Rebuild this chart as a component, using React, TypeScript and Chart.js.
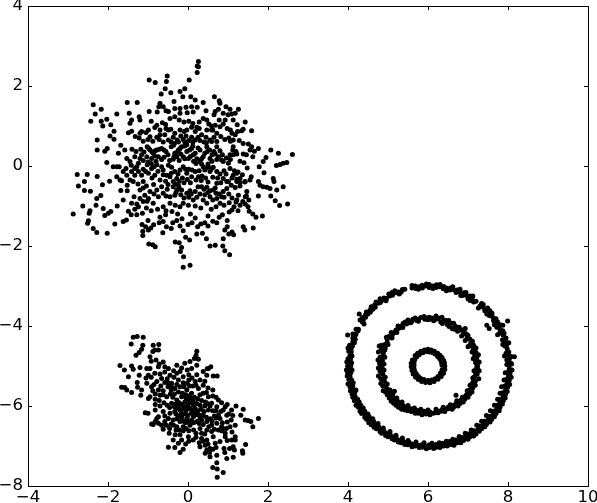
import { useEffect, useRef } from "react";
import { Chart, registerables } from "chart.js";

Chart.register(...registerables);

const xTickLabels = ["\u22124", "\u22122", "0", "2", "4", "6", "8", "10"];
const yTickLabels = ["\u22128", "\u22126", "\u22124", "\u22122", "0", "2", "4"];

const blobUpperEdge = [
[0.26,2.61],[0.23,2.5],[0.26,2.48],[0.23,2.34],[-0.52,2.25],[-0.97,2.15],[-0.82,2.09],[-0.54,2.11],[0.03,2.15],
[-0.57,1.93],[-0.67,1.8],[-0.43,1.83],[-0.2,1.86],[-0.08,1.93],[-0.13,1.73],[0.07,1.73],[0.18,1.65],[0.66,1.73],[0.78,1.63],[0.8,1.57],[0.38,1.59],
[-0.7,1.57],[-0.73,1.48],[-0.62,1.48],[-0.55,1.38],[-0.49,1.36],[-0.97,1.36],[-0.77,1.35],[-0.35,1.61],[-0.33,1.44],[-0.2,1.44],[-0.05,1.47],[0.09,1.48],[0.23,1.47],[0.13,1.35],[-0.02,1.33],[-0.2,1.32],[-0.33,1.23],[-0.22,1.15],[-0.45,1.19],
[0.45,1.38],[0.68,1.36],[0.76,1.42],[0.95,1.48],[1.05,1.42],[1.26,1.42],[1.18,1.32],[1.09,1.3],[1.0,1.28],[0.88,1.32],[0.65,1.28],[0.93,1.15],[0.88,1.05],[0.78,1.15],[0.38,1.19],[0.47,1.15],[0.59,1.0],[0.62,0.9],[0.72,0.82],[1.13,1.15],[1.43,1.1],[1.23,1.03],[1.38,0.92],[1.34,0.88],[1.59,0.88],[1.18,0.78],[1.13,0.65],
];
const blobLeftEdge = [
[-2.37,1.53],[-2.17,1.42],[-2.32,1.3],[-2.43,1.12],[-2.03,1.17],[-2.17,1.12],[-2.13,1.0],[-1.78,1.3],[-1.52,1.59],[-1.27,1.59],[-1.47,1.32],[-1.41,1.15],[-1.45,1.07],[-1.22,1.23],[-1.2,1.15],[-1.93,1.03],[-1.85,0.87],[-1.95,0.75],[-1.85,0.67],[-2.27,0.65],[-2.27,0.4],[-2.08,0.37],[-2.02,0.44],[-1.68,0.52],[-1.58,0.4],[-1.74,0.32],[-2.03,0.09],[-1.87,-0.02],[-1.78,-0.02],
[-2.77,-0.21],[-2.52,-0.21],[-2.27,-0.26],[-2.59,-0.39],[-2.74,-0.5],[-2.59,-0.61],[-2.44,-0.63],[-2.14,-0.47],[-1.96,-0.38],[-1.78,-0.27],[-1.7,-0.35],[-1.66,-0.37],[-1.68,-0.61],[-2.18,-0.74],[-2.28,-0.81],[-2.63,-1.0],[-2.3,-0.98],[-2.87,-1.2],[-2.45,-1.12],[-2.47,-1.18],[-2.12,-1.06],[-1.77,-1.0],[-2.08,-1.24],[-1.99,-1.18],[-1.93,-1.14],[-2.49,-1.37],[-2.51,-1.43],[-2.37,-1.56],[-2.28,-1.66],[-2.02,-1.68],[-1.83,-1.45],[-1.62,-1.39],[-1.54,-1.35],[-1.49,-1.13],
];
const blobRightEdge = [
[2.61,0.29],[2.07,0.4],[2.26,0.32],[2.47,0.09],[2.38,0.07],[2.3,0.04],[2.21,0.01],[1.95,0.21],[1.88,0.11],[1.78,-0.02],[1.9,-0.17],[2.13,-0.31],[2.15,-0.39],[2.38,-0.52],[2.22,-0.6],[2.05,-0.56],[1.97,-0.53],[1.88,-0.52],[1.8,-0.48],[1.76,-0.39],[1.76,-0.75],[2.07,-0.75],[2.18,-0.87],[2.29,-0.99],[2.49,-0.95],
[1.51,0.55],[1.59,0.48],[1.76,0.44],[1.66,0.37],[1.55,0.4],[1.38,0.3],[1.46,0.28],[1.62,0.23],[1.13,0.48],[1.12,0.4],[1.2,0.36],[1.05,0.28],[1.13,0.28],[1.22,0.3],[1.48,-0.05],[1.58,-0.27],[1.55,-0.35],[1.36,-0.22],[1.25,-0.15],[1.16,-0.12],[1.42,-0.4],[1.3,-0.42],[1.22,-0.33],[1.1,-0.3],[1.52,-0.85],[1.46,-0.75],[1.43,-0.95],[1.5,-1.02],[1.53,-1.13],[1.62,-1.2],[1.7,-1.28],[1.86,-1.25],[1.63,-1.55],[1.38,-1.52],[1.2,-0.9],[1.15,-1.02],[1.1,-1.1],[1.03,-1.15],[1.25,-1.12],
];
const blobLowerEdge = [
[-1.0,-1.36],[-1.15,-1.46],[-1.06,-1.52],[-0.99,-1.6],[-1.13,-1.63],[-1.13,-1.74],[-0.93,-1.55],[-0.86,-1.47],[-0.72,-1.42],[-0.62,-1.39],[-0.54,-1.52],[-0.98,-1.95],[-0.88,-1.97],[-0.82,-2.02],[-0.63,-1.67],[-0.32,-1.9],[-0.22,-1.92],[-0.12,-1.62],[-0.06,-1.78],[-0.16,-2.04],[-0.19,-2.14],[0.04,-1.85],[0.22,-1.7],[0.36,-1.68],[0.46,-1.82],[0.55,-2.0],[0.68,-1.98],[0.88,-1.82],[0.87,-2.0],[0.92,-2.12],[1.04,-2.22],[0.98,-1.52],[1.1,-1.65],[1.14,-1.72],[1.02,-1.7],[0.92,-1.6],[1.42,-1.6],[-0.11,-2.27],[-0.12,-2.53],[0.05,-2.48],
[0.0,-1.46],[0.1,-1.42],[0.24,-1.52],[0.32,-1.45],[0.42,-1.42],[0.5,-1.5],[0.62,-1.38],[0.72,-1.42],[0.78,-1.28],[-0.38,-1.42],[-0.28,-1.36],[-0.2,-1.5],[-0.42,-1.56],[-0.7,-1.28],[-0.56,-1.22],[-0.4,-1.14],[-0.26,-1.2],[-0.15,-1.32],
];
const blobCoreUpper = [
[-0.99,0.9],[-0.83,0.96],[-0.7,0.9],[-0.55,0.94],[-0.49,0.9],[-0.43,0.92],[-0.33,0.82],[-0.2,0.9],[-0.1,0.86],[-0.03,0.9],[0.09,0.97],[0.22,0.97],[0.18,0.86],[0.28,0.94],[0.47,0.9],[0.59,0.9],[-0.7,0.78],[-0.78,0.72],[-0.95,0.73],[-1.05,0.84],[-1.16,0.86],[-1.2,0.82],[-1.41,0.87],[-1.49,0.83],[-0.58,0.78],[-0.49,0.65],[-0.37,0.72],[-0.27,0.65],[-0.18,0.75],[-0.05,0.75],[0.09,0.72],[0.18,0.65],[0.34,0.78],[0.45,0.72],[0.55,0.65],[0.65,0.72],[0.72,0.61],
[-1.02,0.48],[-0.95,0.4],[-0.87,0.32],[-0.78,0.4],[-0.66,0.44],[-0.55,0.36],[-0.74,0.23],[-0.91,0.19],[-1.03,0.23],[-0.33,0.32],[-0.28,0.23],[-0.37,0.17],[-0.24,0.4],[-0.16,0.48],[-0.03,0.53],[0.09,0.44],[-0.03,0.36],[-0.12,0.23],[0.01,0.19],[0.13,0.28],[0.3,0.4],[0.38,0.23],[0.3,0.11],[0.47,0.48],[0.59,0.61],[0.72,0.48],[0.65,0.36],[0.76,0.23],[0.55,0.19],[0.88,0.11],[1.01,0.07],[-1.53,0.19],[-1.45,0.11],[-1.33,0.23],[-1.2,0.19],[-1.24,0.07],[-1.33,-0.06],[-1.16,0.28],
[-0.98,0.44],[-0.9,0.35],[-0.82,0.38],[-0.72,0.42],[-0.6,0.4],[-0.83,0.25],[-0.3,0.28],[-0.35,0.24],[-0.26,0.36],[-0.2,0.44],[-0.08,0.5],[0.04,0.4],[-0.08,0.18],[0.06,0.24],[0.18,0.32],[0.25,0.45],[0.34,0.18],[0.34,0.05],[0.42,0.32],[0.6,0.28],[0.68,0.3],[0.72,0.16],[0.5,0.05],[0.6,0.12],[0.84,0.15],
];
const blobCoreMiddle = [
[-0.49,0.02],[-0.41,-0.03],[-0.33,-0.14],[-0.2,-0.1],[-0.12,-0.02],[-0.03,-0.18],[0.09,-0.27],[0.18,-0.14],[0.26,-0.27],[0.38,-0.02],[0.51,-0.02],[0.63,-0.03],[0.55,-0.14],[0.72,-0.14],[0.88,-0.31],[1.05,-0.06],[1.22,-0.18],[1.3,-0.31],[1.43,-0.39],[1.01,-0.39],[-0.53,-0.23],[-0.66,-0.02],[-0.78,0.03],[-0.91,-0.06],[-0.99,-0.18],[-0.83,-0.23],[-0.7,-0.35],[-0.45,-0.27],[-0.37,-0.39],[-0.28,-0.31],[-1.02,0.03],[-1.16,-0.23],[-1.24,-0.14],[-1.33,-0.23],[-1.45,-0.35],[-1.37,-0.39],[-1.62,-0.14],[-1.53,-0.23],[-1.41,-0.14],[-1.12,-0.39],
[0.45,-0.05],[0.58,-0.08],[0.42,-0.1],[0.35,-0.25],[0.1,-0.1],[-0.06,-0.08],[-0.42,-0.18],[-0.62,-0.1],[-0.75,-0.13],[-0.85,-0.02],[-1.28,-0.02],[-1.42,0.02],[0.95,-0.2],[0.8,-0.2],[-0.25,-0.2],[0.2,-0.35],
];
const blobCoreLower = [
[-0.37,-0.52],[-0.24,-0.48],[-0.28,-0.6],[-0.16,-0.6],[-0.33,-0.73],[-0.45,-0.77],[-0.62,-0.68],[-0.74,-0.77],[-0.95,-0.64],[-0.99,-0.81],[-1.08,-0.73],[-0.87,-0.93],[-1.12,-0.89],[-1.35,-0.77],[-1.2,-0.81],[-1.24,-1.02],[-1.33,-1.08],[-1.41,-0.93],[-1.62,-0.85],[-0.03,-0.68],[0.18,-0.64],[0.34,-0.52],[0.47,-0.53],[0.63,-0.6],[0.55,-0.77],[0.38,-0.85],[0.72,-0.81],[0.84,-0.77],[0.88,-0.64],[0.97,-0.39],[0.72,-0.43],[0.8,-0.93],[0.97,-0.56],[1.26,-0.73],[1.22,-0.85],[1.37,-0.89],[1.43,-0.77],[1.47,-0.64],[0.47,-0.93],[0.13,-0.85],[0.01,-0.98],[-0.12,-0.93],[-0.45,-0.93],[-0.62,-1.02],[1.22,-0.39],[1.13,-0.23],[1.3,-0.98],
[-0.32,-0.45],[-0.22,-0.55],[-0.3,-0.66],[0.25,-0.52],[0.4,-0.58],[0.55,-0.62],[0.78,-0.7],[0.62,-0.85],[-0.85,-0.7],[-1.02,-0.88],[-1.28,-0.95],[-0.55,-0.75],[0.05,-0.62],[0.9,-0.78],
];
const blobFillTop = [
[-0.92,1.12],[-0.78,1.02],[-0.64,1.08],[-0.56,1.04],[-0.1,1.1],[0.02,1.12],[0.12,1.06],[0.28,1.1],[0.52,1.05],[0.68,1.02],[0.8,0.98],[0.98,0.94],[1.06,0.9],[1.1,0.82],[1.24,0.86],
[-1.32,0.74],[-1.22,0.7],[-1.12,0.62],[-1.0,0.66],[-0.88,0.62],[-0.72,0.66],[-0.62,0.6],[-0.42,0.6],[-0.34,0.56],[-0.24,0.6],[-0.12,0.66],[-0.08,0.6],[0.02,0.64],[0.12,0.6],[0.25,0.72],[0.3,0.64],[0.4,0.6],[0.46,0.58],[0.82,0.74],[0.92,0.66],[1.02,0.7],[1.06,0.62],[1.28,0.64],[1.38,0.56],
[-1.4,0.42],[-1.3,0.36],[-1.18,0.42],[-1.1,0.35],[-1.12,0.14],[-1.0,0.1],[-0.92,0.06],[-0.8,0.12],[-0.66,0.16],[-0.6,0.22],[-0.5,0.28],[-0.46,0.14],[-0.42,0.48],[-0.36,0.52],[-0.18,0.3],[-0.22,0.14],[0.14,0.12],[0.2,0.06],[0.12,0.5],[0.22,0.18],[0.48,0.36],[0.54,0.4],[0.8,0.38],[0.86,0.28],[0.96,0.2],[1.06,0.16],[1.3,0.12],[1.4,0.08],
];
const blobFillBottom = [
[-1.72,-0.02],[-1.55,-0.06],[-1.12,-0.08],[-1.06,-0.14],[-0.9,-0.3],[-0.62,-0.22],[-0.56,-0.38],[-0.5,-0.46],[-0.22,-0.38],[-0.14,-0.3],[-0.1,-0.42],[-0.02,-0.34],[0.06,-0.42],[0.02,-0.08],[0.28,-0.12],[0.33,-0.36],[0.44,-0.3],[0.5,-0.4],[0.62,-0.28],[0.74,-0.3],[0.82,-0.42],[0.9,-0.12],[1.08,-0.48],[1.18,-0.54],[1.3,-0.5],[-1.25,-0.45],[-1.52,-0.48],[-1.04,-0.5],[-0.86,-0.46],
[-1.52,-0.62],[-1.2,-0.6],[-1.12,-0.55],[-0.78,-0.6],[-0.66,-0.52],[-0.52,-0.58],[-0.18,-0.72],[-0.1,-0.8],[0.02,-0.78],[0.08,-0.7],[0.22,-0.78],[0.3,-0.7],[0.42,-0.72],[0.5,-0.66],[0.68,-0.55],[0.7,-0.68],[1.02,-0.7],[1.1,-0.8],[1.03,-0.92],[0.9,-0.98],[0.7,-1.02],[0.58,-1.08],[0.32,-1.05],[0.18,-1.0],[-0.2,-1.02],[-0.32,-0.98],[-0.76,-1.08],[-0.92,-1.12],[-1.04,-1.05],[-1.14,-1.18],[-1.28,-1.22],[-1.42,-1.22],[-0.55,-1.12],[0.06,-1.2],[0.18,-1.3],[0.5,-1.25],[0.86,-1.22],[0.98,-1.36],
];

const tiltedUpper = [
[-1.37,-4.28],[-1.27,-4.26],[-1.12,-4.28],[-1.42,-4.45],[-1.13,-4.48],[-0.87,-4.48],[-0.73,-4.46],[-0.83,-4.6],[-0.74,-4.6],[-1.16,-4.58],[-1.22,-4.66],[-1.3,-4.73],[-0.88,-4.64],[-0.95,-4.77],[0.22,-4.63],[0.2,-4.73],[0.16,-4.81],[0.26,-4.83],
[-1.7,-4.99],[-1.59,-5.1],[-1.41,-5.0],[-1.37,-5.08],[-1.49,-5.27],[-1.2,-5.04],[-1.22,-5.23],[-1.66,-5.53],[-1.58,-5.54],[-1.53,-5.6],[-1.41,-5.66],[-1.27,-5.41],[-1.26,-5.53],[-1.16,-5.6],[-1.18,-5.73],[-0.99,-5.81],[-0.82,-5.83],[-0.82,-5.96],[-1.07,-6.17],[-1.0,-6.18],[-0.91,-6.45],[-0.78,-6.31],[-0.74,-6.43],
[0.63,-5.25],[0.73,-5.25],[0.57,-5.02],[0.48,-5.07],[0.38,-5.14],[-0.92,-4.88],[-0.8,-4.85],[-0.72,-4.95],[-0.62,-4.9],
];
const tiltedCore = [
[-0.95,-5.06],[-0.83,-5.18],[-0.74,-5.02],[-0.58,-5.02],[-0.49,-5.06],[-0.45,-5.23],[-0.66,-5.31],[-0.78,-5.39],[-0.58,-5.41],[-0.41,-5.43],[-0.28,-4.98],[-0.28,-5.18],[-0.08,-4.93],[0.05,-4.89],[0.22,-4.98],[-0.02,-5.1],[0.09,-5.06],[-0.2,-5.14],[-0.24,-5.35],[-0.12,-5.27],[-0.02,-5.43],[0.18,-5.39],[0.3,-5.35],[0.38,-5.48],[0.47,-5.23],[0.51,-5.06],[-1.03,-5.06],[-0.99,-5.23],[-1.03,-5.43],[-0.91,-5.52],[-0.74,-5.6],[-0.95,-5.77],[-0.7,-5.73],[-0.53,-5.77],[-0.33,-5.56],[-0.2,-5.52],[-0.03,-5.6],[0.09,-5.68],[0.26,-5.56],[0.38,-5.68],[0.51,-5.77],[0.76,-5.85],[0.59,-5.93],[0.72,-6.02],[0.88,-6.1],[1.09,-6.1],[0.97,-6.23],[0.8,-6.31],[1.18,-6.48],[1.05,-6.52],[0.76,-6.23],[0.51,-6.1],[0.3,-5.98],[0.13,-5.89],[0.01,-5.85],[-0.16,-5.77],[-0.28,-5.85],[-0.41,-5.93],[-0.24,-6.02],[-0.08,-6.02],[0.05,-6.06],[0.18,-6.18],[0.3,-6.23],[-0.16,-6.18],[-0.33,-6.14],[-0.37,-6.35],[-0.2,-6.39],[-0.03,-6.31],[0.09,-6.35],[0.22,-6.39],[0.34,-6.35],[0.47,-6.39],[0.59,-6.48],[0.72,-6.43],[0.84,-6.52],[-0.28,-6.52],[-0.12,-6.52],[0.05,-6.48],[0.3,-6.56],[0.47,-6.6],[0.59,-6.64],[-0.45,-6.18],[-0.62,-6.14],[-0.49,-6.31],[-0.58,-6.39],[-0.47,-6.68],[-0.82,-6.39],[-0.74,-6.27],[-0.87,-6.46],[-0.66,-6.48],
[1.38,-6.08],[1.2,-6.0],[1.32,-6.23],[1.43,-6.35],[1.57,-6.39],[1.62,-6.52],[1.5,-6.36],[1.76,-6.31],
];
const tiltedDense = [
[-0.3,-5.95],[-0.22,-5.92],[-0.15,-5.96],[-0.08,-5.9],[0,-5.96],[0.06,-5.92],[0.14,-5.98],[0.22,-5.94],[-0.27,-6.05],[-0.2,-6.1],[-0.12,-6.06],[-0.05,-6.12],[0.02,-6.05],[0.1,-6.1],[0.18,-6.06],[0.25,-6.12],[0.33,-6.08],[0.4,-6.14],[-0.3,-6.2],[-0.24,-6.25],[-0.16,-6.28],[-0.08,-6.2],[0,-6.24],[0.08,-6.18],[0.14,-6.26],[0.22,-6.22],[0.3,-6.3],[0.38,-6.24],[0.46,-6.28],[-0.28,-6.32],[-0.12,-6.38],[-0.06,-6.42],[0.02,-6.38],[0.14,-6.42],[0.28,-6.44],[0.38,-6.46],[-0.34,-5.7],[-0.24,-5.65],[-0.14,-5.68],[-0.06,-5.72],[0.02,-5.75],[0.16,-5.78],[0.24,-5.82],[0.34,-5.86],[0.44,-5.9],[-0.42,-5.6],[-0.5,-5.52],[-0.62,-5.62],[0.55,-6.0],[0.62,-6.12],[0.66,-6.25],[0.56,-6.32],[-0.36,-6.48],[-0.22,-6.6],[-0.05,-6.56],[0.14,-6.6],
];
const tiltedFill = [
[-1.05,-5.3],[-0.92,-5.28],[-0.7,-5.2],[-0.58,-5.15],[-0.52,-5.32],[-0.36,-5.12],[-0.35,-5.28],[-0.16,-5.05],[0.02,-5.22],[0.1,-5.3],[0.22,-5.22],[0.12,-5.5],[0.02,-5.35],[-0.12,-5.42],
[-0.85,-5.46],[-0.68,-5.5],[-0.5,-5.42],[-0.42,-5.5],[-0.28,-5.46],[-0.1,-5.52],[0.04,-5.5],[0.2,-5.48],[0.42,-5.38],[0.5,-5.55],[0.62,-5.6],[-0.88,-5.62],[-0.82,-5.7],[-0.62,-5.72],[-0.44,-5.7],[-0.38,-5.78],[-0.05,-5.8],[0.08,-5.8],[0.3,-5.72],[0.46,-5.66],[0.62,-5.75],[0.7,-5.78],[0.84,-5.92],[0.98,-5.96],[-0.72,-5.86],[-0.6,-5.92],[-0.52,-5.98],[-0.46,-6.04],[-0.34,-6.02],[-0.7,-6.0],[-0.82,-6.1],[0.42,-6.0],[0.48,-5.94],[0.7,-6.12],[0.82,-6.14],[0.93,-6.02],[1.02,-6.2],[1.12,-6.24],[-0.58,-6.25],[-0.54,-6.48],[-0.42,-6.45],[-0.46,-6.56],[-0.62,-6.58],[-0.3,-6.6],[-0.12,-6.62],[0.02,-6.62],[0.2,-6.68],[0.34,-6.68],[0.42,-6.7],[0.52,-6.52],[0.66,-6.58],[0.76,-6.6],[0.84,-6.62],[0.6,-6.38],[0.7,-6.3],[0.86,-6.42],[0.98,-6.4],[1.08,-6.35],[0.96,-6.56],[1.1,-6.65],[0.98,-6.86],[1.04,-7.06],[0.2,-6.78],[0.28,-6.92],[0.38,-6.88],[0.5,-6.95],[-0.06,-6.95],[0.02,-6.88],[-0.32,-6.72],[-0.2,-6.72],[0.7,-7.04],[0.62,-7.08],[0.54,-7.16],
];
const tiltedLower = [
[0.63,-6.77],[0.47,-6.85],[0.34,-6.81],[0.13,-6.85],[0.01,-6.77],[-0.16,-6.85],[-0.24,-6.93],[0.3,-7.02],[0.43,-6.98],[0.55,-7.06],[0.68,-6.93],[0.8,-6.89],[0.93,-6.77],[1.09,-6.85],[1.18,-6.85],[1.13,-7.02],[0.88,-6.56],[0.93,-6.68],[1.18,-6.77],[0.47,-7.1],[0.72,-7.23],
[-0.37,-6.85],[-0.49,-7.03],[-0.33,-7.04],[-0.2,-7.16],[-0.12,-7.08],[0.55,-7.27],[0.43,-7.18],[0.9,-7.06],[0.97,-7.31],[1.13,-7.28],[1.37,-7.18],[1.16,-7.1],[1.44,-6.96],[1.36,-7.12],[0.92,-7.16],
[0.72,-7.42],[0.62,-7.54],[0.73,-7.575],[0.88,-7.66],[0.73,-7.78],
];

const outerRing = [
[8.03,-5.0],[7.97,-4.96],[8.03,-4.83],[7.97,-4.85],[8.02,-4.65],[7.95,-4.68],[7.97,-4.47],[7.92,-4.5],[7.95,-4.3],[7.86,-4.35],[7.87,-4.12],[7.79,-4.18],[7.8,-3.97],[7.72,-4.03],[7.7,-3.82],[7.64,-3.87],[7.6,-3.68],[7.53,-3.74],[7.49,-3.55],[7.42,-3.62],[7.34,-3.44],[7.3,-3.5],[7.2,-3.38],[7.14,-3.4],[7.05,-3.25],[7.0,-3.32],[6.9,-3.17],[6.86,-3.24],[6.73,-3.1],[6.7,-3.16],[6.56,-3.05],[6.55,-3.1],[6.39,-3.01],[6.38,-3.07],[6.21,-2.97],[6.2,-3.04],[6.03,-2.96],[6.03,-3.04],
[5.85,-2.98],[5.86,-3.05],[5.68,-3.0],[5.69,-3.06],[5.36,-3.09],[5.33,-3.15],[5.18,-3.17],[5.17,-3.12],[5.04,-3.25],[5.02,-3.2],[4.87,-3.35],[4.9,-3.3],[4.75,-3.43],[4.7,-3.4],[4.62,-3.58],[4.58,-3.52],[4.5,-3.7],[4.46,-3.65],[4.38,-3.86],[4.36,-3.79],[4.36,-3.9],[4.25,-4.12],[4.2,-4.08],[4.18,-4.33],[4.12,-4.3],[4.11,-4.5],[4.04,-4.48],[4.08,-4.65],[4.02,-4.63],[4.06,-4.83],[4.0,-4.82],[4.07,-5.0],[3.99,-5.0],
[4.07,-5.17],[3.99,-5.16],[4.09,-5.35],[4.02,-5.34],[4.12,-5.5],[4.05,-5.52],[4.17,-5.67],[4.1,-5.7],[4.24,-5.83],[4.16,-5.87],[4.32,-5.98],[4.26,-6.03],[4.42,-6.13],[4.34,-6.19],[4.53,-6.27],[4.46,-6.33],[4.64,-6.39],[4.58,-6.47],[4.76,-6.51],[4.71,-6.57],[4.9,-6.62],[4.84,-6.68],[5.05,-6.7],[5.0,-6.77],[5.2,-6.79],[5.16,-6.85],[5.36,-6.85],[5.33,-6.92],[5.52,-6.9],[5.5,-6.97],[5.69,-6.94],[5.68,-7.0],[5.86,-6.96],[5.86,-7.03],[6.03,-6.97],[6.03,-7.04],
[6.2,-6.96],[6.21,-7.03],[6.37,-6.93],[6.39,-7.0],[6.54,-6.89],[6.57,-6.96],[6.7,-6.85],[6.73,-6.92],[6.86,-6.79],[6.89,-6.86],[7.0,-6.7],[7.05,-6.77],[7.15,-6.62],[7.2,-6.7],[7.28,-6.5],[7.34,-6.57],[7.41,-6.38],[7.46,-6.46],[7.53,-6.26],[7.59,-6.34],[7.64,-6.13],[7.7,-6.19],[7.73,-5.98],[7.8,-6.03],[7.81,-5.83],[7.88,-5.87],[7.87,-5.67],[7.94,-5.7],[7.92,-5.5],[7.99,-5.53],[7.96,-5.34],[8.03,-5.36],[7.98,-5.17],[8.05,-5.18],
];
const outerRingFill = [
[8.03,-4.91],[8.01,-4.74],[7.98,-4.57],[7.94,-4.4],[7.88,-4.23],[7.8,-4.08],[7.72,-3.93],[7.62,-3.78],[7.5,-3.65],[7.38,-3.53],[7.1,-3.31],[6.95,-3.23],[6.8,-3.15],[6.63,-3.09],[6.46,-3.05],[6.29,-3.02],[6.12,-3.0],
[5.94,-3.0],[5.77,-3.02],[5.6,-3.05],[5.26,-3.15],[5.11,-3.23],[4.96,-3.31],[4.81,-3.41],[4.68,-3.53],[4.56,-3.65],[4.44,-3.78],[4.26,-4.08],[4.18,-4.23],[4.12,-4.4],[4.08,-4.57],[4.05,-4.74],[4.03,-4.91],
[4.03,-5.09],[4.05,-5.26],[4.08,-5.43],[4.12,-5.6],[4.18,-5.77],[4.26,-5.92],[4.34,-6.07],[4.44,-6.22],[4.56,-6.35],[4.68,-6.47],[4.81,-6.59],[4.96,-6.69],[5.11,-6.77],[5.26,-6.85],[5.43,-6.91],[5.6,-6.95],[5.77,-6.98],[5.94,-7.0],
[6.12,-7.0],[6.29,-6.98],[6.46,-6.95],[6.63,-6.91],[6.8,-6.85],[6.95,-6.77],[7.1,-6.69],[7.25,-6.59],[7.38,-6.47],[7.5,-6.35],[7.62,-6.22],[7.72,-6.07],[7.8,-5.92],[7.88,-5.77],[7.94,-5.6],[7.98,-5.43],[8.01,-5.26],[8.03,-5.09],
];
const outerRingThick = [
[8.09,-4.95],[8.08,-4.76],[7.91,-4.75],[8.02,-4.42],[7.87,-4.46],[7.9,-4.18],[7.74,-4.22],[7.74,-3.9],[7.66,-3.97],[7.55,-3.62],[7.47,-3.7],[7.38,-3.46],[7.26,-3.55],[7.12,-3.25],[7.05,-3.36],[6.95,-3.16],[6.8,-3.08],[6.82,-3.24],[6.62,-3.02],[6.46,-3.12],[6.3,-2.96],[6.12,-3.06],[5.96,-2.95],
[5.76,-3.08],[5.6,-2.99],[5.42,-3.08],[5.28,-3.2],[5.1,-3.16],[4.95,-3.37],[4.8,-3.32],[4.66,-3.48],[4.55,-3.6],[4.44,-3.72],[4.4,-3.95],[4.3,-3.85],[4.2,-4.2],[4.12,-4.2],[4.16,-4.42],[4.0,-4.55],[4.1,-4.75],[3.97,-4.9],[4.09,-4.92],
[3.96,-5.1],[4.1,-5.1],[3.98,-5.25],[4.13,-5.42],[4.0,-5.45],[4.2,-5.6],[4.06,-5.62],[4.12,-5.78],[4.28,-5.9],[4.2,-5.98],[4.38,-6.05],[4.3,-6.13],[4.5,-6.2],[4.42,-6.28],[4.62,-6.32],[4.52,-6.42],[4.75,-6.44],[4.65,-6.53],[4.88,-6.55],[4.8,-6.64],[5.05,-6.64],[4.94,-6.74],[5.2,-6.73],[5.1,-6.82],[5.36,-6.8],[5.26,-6.9],[5.5,-6.86],[5.42,-6.96],[5.7,-6.9],[5.6,-7.02],[5.9,-6.92],[5.78,-7.04],[6.1,-6.93],[5.96,-7.07],
[6.28,-6.92],[6.14,-7.06],[6.46,-6.88],[6.3,-7.04],[6.62,-6.83],[6.48,-7.0],[6.78,-6.76],[6.65,-6.98],[6.93,-6.68],[6.82,-6.92],[7.08,-6.6],[7.0,-6.83],[7.22,-6.48],[7.14,-6.75],[7.34,-6.38],[7.28,-6.63],[7.46,-6.24],[7.42,-6.52],[7.56,-6.12],[7.55,-6.4],[7.66,-5.98],[7.66,-6.27],[7.74,-5.83],[7.78,-6.12],[7.8,-5.68],[7.86,-5.95],[7.84,-5.52],[7.93,-5.8],[7.9,-5.35],[7.98,-5.64],[7.93,-5.17],[8.04,-5.46],[8.08,-5.28],[8.1,-5.1],
];
const ringOutliers = [
[3.99,-4.225],[4.28,-3.7],[7.99,-3.875],[7.47,-3.98],[7.53,-4.06],[7.87,-3.98],[8.16,-4.77],[8.07,-4.93],[4.78,-4.5],[5.16,-5.63],[6.7,-5.73],[6.93,-4.06],[7.0,-4.52],
];
const middleRing = [
[7.24,-4.99],[7.19,-4.9],[7.22,-4.8],[7.17,-4.72],[7.2,-4.66],[7.13,-4.57],[7.14,-4.48],[7.07,-4.43],[7.05,-4.33],[6.98,-4.3],[6.96,-4.2],[6.89,-4.19],[6.87,-4.1],[6.78,-4.1],[6.72,-4.03],[6.66,-4.08],[6.57,-3.93],[6.53,-4.01],[6.45,-3.86],[6.36,-3.94],[6.26,-3.8],[6.14,-3.87],[6.03,-3.78],[6.03,-3.84],
[5.92,-3.83],[5.82,-3.79],[5.72,-3.86],[5.62,-3.83],[5.52,-3.92],[5.43,-3.9],[5.34,-4.0],[5.26,-4.06],[5.2,-4.1],[5.15,-4.17],[5.11,-4.22],[5.02,-4.26],[4.98,-4.33],[4.92,-4.46],[4.9,-4.53],[4.83,-4.6],[4.88,-4.7],[4.8,-4.78],[4.86,-4.87],[4.79,-4.94],
[4.85,-5.05],[4.8,-5.13],[4.87,-5.2],[4.82,-5.32],[4.91,-5.38],[4.87,-5.5],[4.97,-5.56],[4.94,-5.65],[5.05,-5.7],[5.03,-5.8],[5.15,-5.83],[5.14,-5.93],[5.28,-5.94],[5.26,-6.03],[5.42,-6.02],[5.42,-6.1],[5.57,-6.07],[5.58,-6.14],[5.73,-6.11],[5.76,-6.18],[5.9,-6.13],[5.95,-6.2],
[6.05,-6.15],[6.13,-6.18],[6.22,-6.12],[6.33,-6.13],[6.4,-6.08],[6.5,-6.07],[6.55,-6.01],[6.64,-6.03],[6.7,-5.94],[6.8,-5.94],[6.83,-5.85],[6.92,-5.83],[6.95,-5.73],[7.04,-5.7],[7.05,-5.6],[7.12,-5.55],[7.1,-5.44],[7.18,-5.38],[7.16,-5.27],[7.23,-5.2],[7.18,-5.12],[7.24,-5.07],
];
const middleRingFill = [
[7.2,-4.93],[7.17,-4.76],[7.14,-4.6],[7.08,-4.46],[7.0,-4.32],[6.9,-4.2],[6.8,-4.1],[6.68,-4.0],[6.55,-3.93],[6.4,-3.87],[6.25,-3.82],[6.1,-3.8],[5.95,-3.8],[5.77,-3.83],[5.6,-3.88],[5.46,-3.95],[5.32,-4.03],[5.2,-4.13],[5.08,-4.26],[4.98,-4.42],[4.93,-4.55],[4.88,-4.66],[4.84,-4.82],[4.82,-5.0],[4.84,-5.16],[4.88,-5.32],[4.94,-5.48],[5.02,-5.63],[5.12,-5.76],[5.24,-5.88],[5.36,-5.97],[5.5,-6.06],[5.65,-6.12],[5.82,-6.15],[6.0,-6.18],[6.18,-6.17],[6.34,-6.1],[6.5,-6.03],[6.65,-5.98],[6.78,-5.88],[6.9,-5.79],[7.0,-5.67],[7.08,-5.52],[7.14,-5.37],[7.19,-5.2],[7.22,-5.03],
];
const middleRingThick = [
[7.28,-4.9],[7.13,-4.82],[7.26,-4.72],[7.1,-4.65],[7.2,-4.55],[7.02,-4.5],[7.11,-4.38],[6.93,-4.36],[7.0,-4.24],[6.84,-4.25],[6.9,-4.12],[6.74,-4.13],[6.78,-4.03],[6.6,-4.06],[6.64,-3.93],[6.48,-3.96],[6.52,-3.86],[6.32,-3.9],[6.35,-3.78],[6.18,-3.84],[6.2,-3.75],[5.98,-3.84],[5.9,-3.76],[5.76,-3.88],[5.68,-3.8],[5.57,-3.92],[5.5,-3.85],[5.37,-4.04],[5.38,-3.93],[5.22,-4.16],[5.25,-4.0],[5.1,-4.3],[5.08,-4.16],[5.0,-4.46],[4.96,-4.28],[4.92,-4.6],[4.84,-4.48],[4.92,-4.78],[4.76,-4.65],[4.9,-4.95],[4.75,-4.85],
[4.9,-5.1],[4.76,-5.05],[4.93,-5.28],[4.76,-5.25],[4.98,-5.45],[4.82,-5.44],[5.05,-5.6],[4.88,-5.62],[5.12,-5.7],[4.98,-5.72],[5.22,-5.8],[5.08,-5.88],[5.35,-5.9],[5.2,-5.98],[5.5,-5.99],[5.34,-6.08],[5.66,-6.05],[5.5,-6.12],[5.82,-6.08],[5.68,-6.18],[6.0,-6.1],[5.85,-6.22],[6.2,-6.08],[6.05,-6.22],[6.38,-6.03],[6.25,-6.17],[6.56,-5.97],[6.42,-6.14],[6.72,-5.87],[6.6,-6.08],[6.86,-5.78],[6.75,-6.0],[6.98,-5.62],[6.88,-5.9],[7.05,-5.48],[7.0,-5.78],[7.12,-5.3],[7.1,-5.65],[7.15,-5.12],[7.18,-5.48],[7.27,-5.32],[7.28,-5.12],
];
const innerRing = [
[6.42,-5],[6.35,-4.98],[6.41,-4.92],[6.34,-4.92],[6.39,-4.86],[6.32,-4.85],[6.35,-4.79],[6.29,-4.81],[6.3,-4.73],[6.24,-4.76],[6.24,-4.68],[6.18,-4.7],[6.16,-4.63],[6.12,-4.67],[6.08,-4.6],[6.03,-4.65],[6,-4.58],[5.96,-4.64],[5.91,-4.6],[5.87,-4.67],[5.82,-4.63],[5.78,-4.72],[5.74,-4.68],[5.72,-4.77],[5.68,-4.74],[5.67,-4.84],[5.61,-4.85],[5.65,-4.91],[5.58,-4.93],[5.65,-4.98],[5.58,-5.02],[5.65,-5.06],[5.6,-5.11],[5.67,-5.13],[5.63,-5.2],[5.71,-5.2],[5.69,-5.28],[5.76,-5.26],[5.76,-5.34],[5.82,-5.31],[5.84,-5.39],[5.9,-5.34],[5.94,-5.41],[6,-5.36],[6.05,-5.42],[6.09,-5.35],[6.15,-5.39],[6.18,-5.32],[6.25,-5.33],[6.25,-5.26],[6.33,-5.26],[6.31,-5.18],[6.39,-5.18],[6.35,-5.1],[6.42,-5.09],
];

const allPoints = [
  ...blobUpperEdge, ...blobLeftEdge, ...blobRightEdge, ...blobLowerEdge,
  ...blobCoreUpper, ...blobCoreMiddle, ...blobCoreLower, ...blobFillTop, ...blobFillBottom,
  ...tiltedUpper, ...tiltedCore, ...tiltedDense, ...tiltedFill, ...tiltedLower,
  ...outerRing, ...outerRingFill, ...outerRingThick, ...ringOutliers,
  ...middleRing, ...middleRingFill, ...middleRingThick, ...innerRing,
].map(([x, y]) => ({ x, y }));

const innerTicks = {
  id: "innerTicks",
  afterDraw(chart: any) {
    const { ctx, chartArea: a, scales } = chart;
    ctx.save();
    ctx.strokeStyle = "#000";
    ctx.lineWidth = 1;
    ctx.beginPath();
    const len = 4;
    for (const t of scales.x.ticks) {
      const p = Math.round(scales.x.getPixelForValue(t.value)) + 0.5;
      ctx.moveTo(p, a.bottom);
      ctx.lineTo(p, a.bottom - len);
      ctx.moveTo(p, a.top);
      ctx.lineTo(p, a.top + len);
    }
    for (const t of scales.y.ticks) {
      const p = Math.round(scales.y.getPixelForValue(t.value)) + 0.5;
      ctx.moveTo(a.left, p);
      ctx.lineTo(a.left + len, p);
      ctx.moveTo(a.right, p);
      ctx.lineTo(a.right - len, p);
    }
    ctx.stroke();
    ctx.strokeRect(a.left + 0.5, a.top + 0.5, a.right - a.left, a.bottom - a.top);
    ctx.restore();
  },
};

const noPadding = (s: any) => {
  s.paddingLeft = 0;
  s.paddingRight = 0;
  s.paddingTop = 0;
  s.paddingBottom = 0;
};

export default function App() {
  const ref = useRef<HTMLCanvasElement>(null);
  useEffect(() => {
    const font = { family: "'DejaVu Sans'", size: 16.6 };
    const chart = new Chart(ref.current!, {
      type: "scatter",
      data: {
        datasets: [
          {
            data: allPoints,
            backgroundColor: "#000",
            borderColor: "#000",
            borderWidth: 0,
            pointRadius: 2.5,
            pointStyle: "circle",
          },
        ],
      },
      options: {
        responsive: false,
        animation: false,
        devicePixelRatio: 1,
        layout: { autoPadding: false, padding: { left: 0, top: 6, right: 9, bottom: 0 } },
        plugins: { legend: { display: false }, tooltip: { enabled: false } },
        scales: {
          x: {
            type: "linear",
            min: -4,
            max: 10,
            afterFit: (s: any) => { s.height = 17; noPadding(s); },
            grid: { display: false, drawTicks: false },
            border: { display: false },
            ticks: {
              stepSize: 2,
              autoSkip: false,
              maxRotation: 0,
              padding: 2,
              color: "#000",
              font,
              callback: (_v: any, i: number) => xTickLabels[i],
            },
          },
          y: {
            type: "linear",
            min: -8,
            max: 4,
            afterFit: (s: any) => { s.width = 28; noPadding(s); },
            grid: { display: false, drawTicks: false },
            border: { display: false },
            ticks: {
              stepSize: 2,
              autoSkip: false,
              padding: 5,
              color: "#000",
              font,
              callback: (_v: any, i: number) => yTickLabels[i],
            },
          },
        },
      },
      plugins: [innerTicks],
    } as any);
    return () => chart.destroy();
  }, []);
  return (
    <div style={{ position: "absolute", left: 0, top: 0, width: 597, height: 503, background: "#fff" }}>
      <canvas ref={ref} width={597} height={503} style={{ display: "block" }} />
    </div>
  );
}
